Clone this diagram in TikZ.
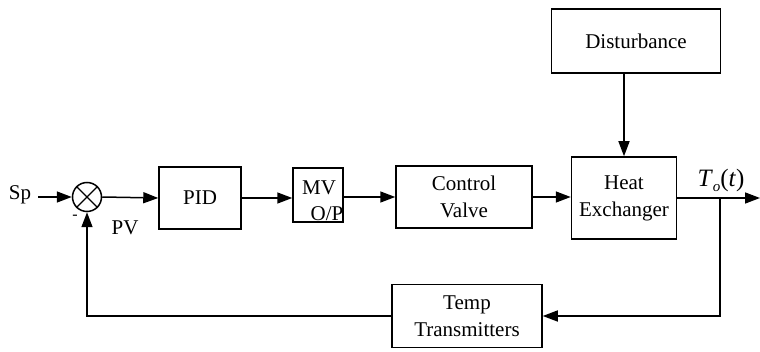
\documentclass[tikz,border=0pt]{standalone}
\usepackage{fontspec}
\setmainfont{Liberation Serif}
\usetikzlibrary{arrows.meta}
\begin{document}
\begin{tikzpicture}[x=1pt,y=-1pt,
  line width=1.5pt,
  every node/.style={font=\fontsize{21}{27}\selectfont},
  block/.style={draw, rectangle, inner sep=0pt, align=center},
  flow/.style={-{Triangle[length=15pt,width=11pt]}},
  lbl/.style={inner sep=0pt}]
  \useasboundingbox (0,0) rectangle (760,352);

  % summing junction
  \node[draw, circle, minimum size=29pt, inner sep=0pt] (sum) at (87,197) {};
  \draw[line width=1.2pt] (sum.north west) -- (sum.south east)
                          (sum.north east) -- (sum.south west);

  % blocks of the loop
  \node[block, minimum width=82pt, minimum height=62pt] (pid) at (200,198) {PID};
  \node[block, minimum width=50pt, minimum height=54pt] (mv) at (318,195) {};
  \node[lbl] (mvtop) at (319,188) {MV};
  \node[lbl] (mvbot) at (327,214) {O/P};
  \node[block, minimum width=136pt, minimum height=62pt] (cv) at (464,197) {Control\\Valve};
  \node[block, minimum width=105pt, minimum height=82pt] (he) at (624,198) {Heat\\Exchanger};
  \node[block, minimum width=169pt, minimum height=64pt] (dist) at (636,41) {Disturbance};
  \node[block, minimum width=150pt, minimum height=63pt] (tt) at (467,316) {Temp\\Transmitters};

  % signal labels
  \node[lbl] (sp) at (20,195) {Sp};
  \node[lbl] (pv) at (125,228) {PV};
  \node[lbl, font=\fontsize{16}{16}\selectfont] (minus) at (75,217) {-};
  \node[lbl] (out) at (721,180) {\fontsize{25}{25}\selectfont\textit{T}\raisebox{-0.45ex}{\textit{\fontsize{15}{15}\selectfont o}}(\textit{t})};

  % free ends and corners
  \coordinate (spin) at (38,197);
  \coordinate (outend) at (760,198);
  \coordinate (tap) at (720,198);
  \coordinate (tapdown) at (720,316);
  \coordinate (fbcorner) at (87,316);

  % forward path
  \draw[flow] (spin) -- (sum.west);
  \draw[flow] (sum.east) -- (pid.west);
  \draw[flow] (pid.east) -- (pid.east -| mv.west);
  \draw[flow] (mv.east |- cv.west) -- (cv.west);
  \draw[flow] (cv.east) -- (cv.east -| he.west);
  \draw[flow] (he.east) -- (outend);
  \draw[flow] (dist.south -| he.north) -- (he.north);

  % feedback path
  \draw[flow] (tap) -- (tapdown) -- (tt.east);
  \draw[flow] (tt.west) -- (fbcorner) -- (sum.south);
\end{tikzpicture}
\end{document}
